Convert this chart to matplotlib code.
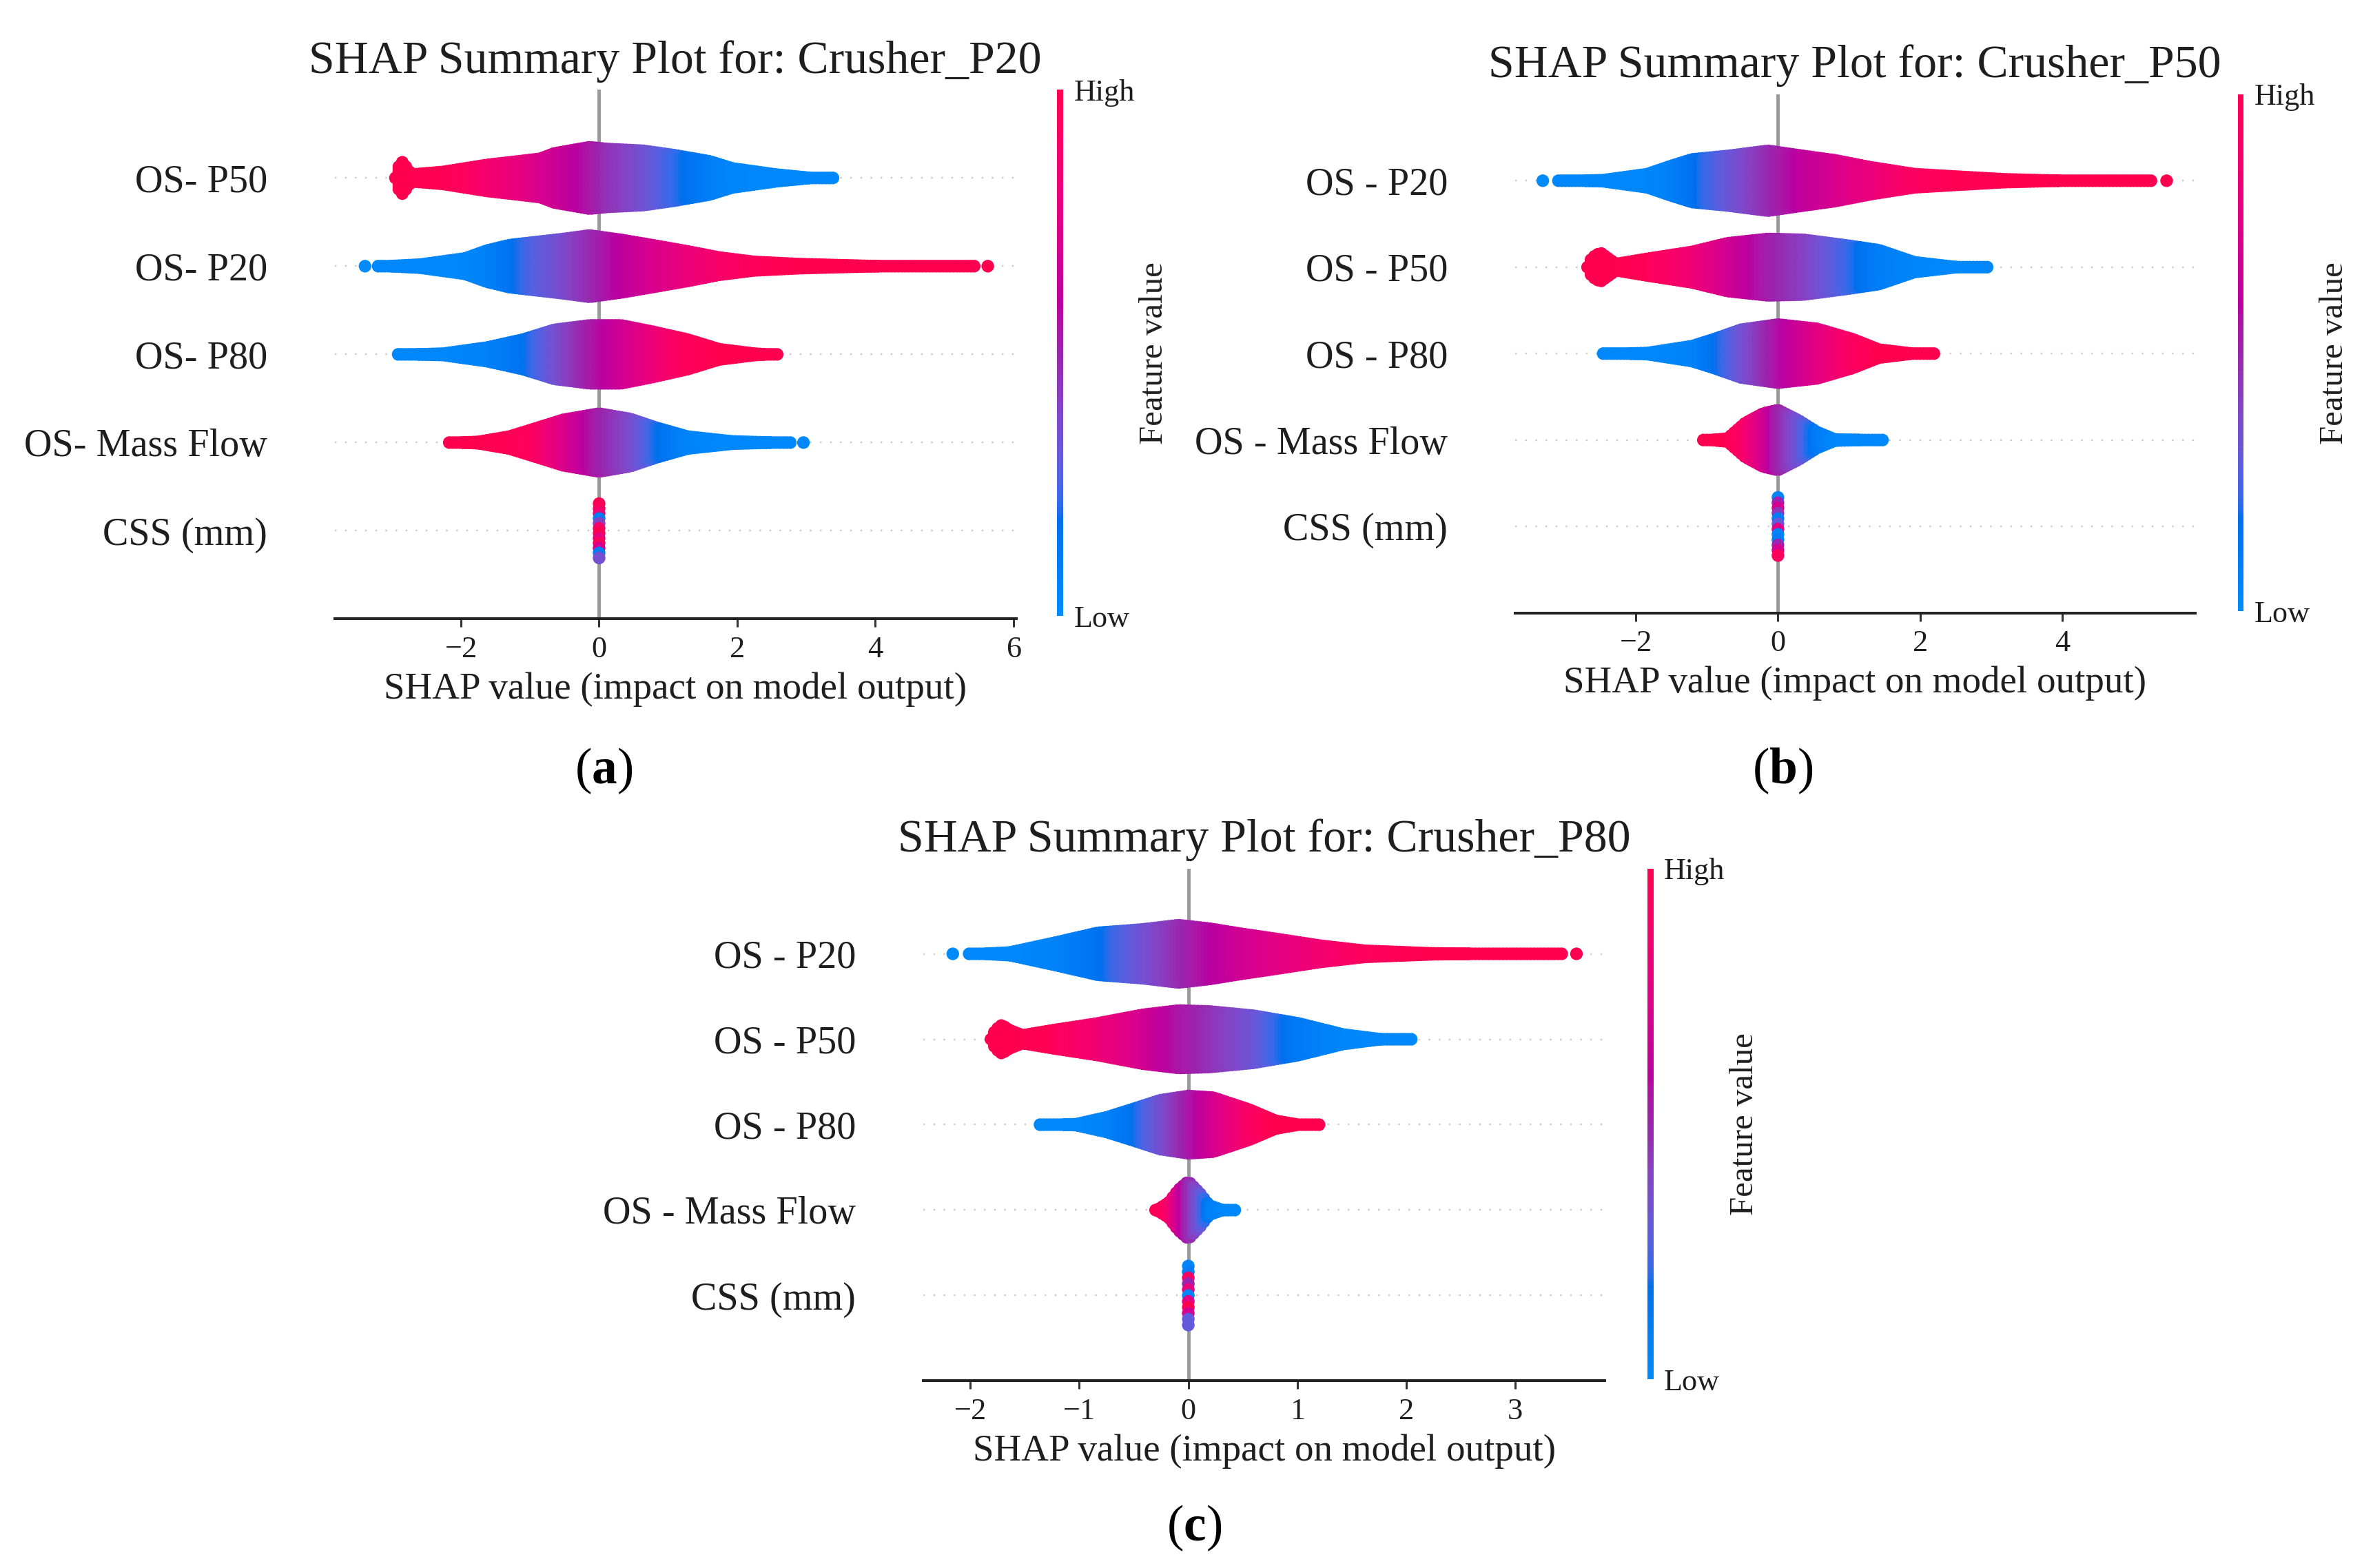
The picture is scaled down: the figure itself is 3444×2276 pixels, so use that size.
import numpy as np
import matplotlib
matplotlib.use("Agg")
import matplotlib.pyplot as plt
from matplotlib.colors import LinearSegmentedColormap

plt.rcParams['font.family'] = ['Liberation Serif', 'DejaVu Serif']
plt.rcParams['mathtext.fontset'] = 'custom'
plt.rcParams['mathtext.rm'] = 'Liberation Serif'
plt.rcParams['mathtext.bf'] = 'Liberation Serif:bold'

# ---- data ----------------------------------------------------------------
# each swarm: knots of SHAP value (X), outer half height of the swarm in row
# units (HW) and the feature value colour at that knot (CV, 0 = low, 1 = high)

TITLES = ["SHAP Summary Plot for: Crusher_P20",
          "SHAP Summary Plot for: Crusher_P50",
          "SHAP Summary Plot for: Crusher_P80"]

# rows listed bottom to top
FEATURES_A = ["CSS (mm)", "OS- Mass Flow", "OS- P80", "OS- P20", "OS- P50"]
FEATURES_B = ["CSS (mm)", "OS - Mass Flow", "OS - P80", "OS - P50", "OS - P20"]
FEATURES_C = ["CSS (mm)", "OS - Mass Flow", "OS - P80", "OS - P50", "OS - P20"]

XTICKS_A = [-2, 0, 2, 4, 6]
XTICKS_B = [-2, 0, 2, 4]
XTICKS_C = [-2, -1, 0, 1, 2, 3]

# panel (a): Crusher_P20
A_P50_X = [-2.95, -2.90, -2.85, -2.80, -2.72, -2.26, -1.94, -1.62, -1.17, -0.85, -0.65, -0.14, 0.12, 0.64, 1.09, 1.60, 1.93, 2.57, 3.09, 3.38]
A_P50_HW = [0.07, 0.20, 0.25, 0.20, 0.11, 0.14, 0.18, 0.22, 0.26, 0.29, 0.35, 0.42, 0.40, 0.38, 0.33, 0.26, 0.18, 0.11, 0.07, 0.065]
A_P50_CV = [1.00, 1.00, 1.00, 1.00, 1.00, 0.98, 0.95, 0.88, 0.80, 0.72, 0.68, 0.56, 0.47, 0.35, 0.22, 0.10, 0.04, 0.02, 0.02, 0.02]

A_P20_X = [-3.20, -2.59, -1.94, -1.62, -1.30, -0.97, -0.52, -0.14, 0.32, 0.77, 1.28, 1.74, 2.25, 2.90, 3.86, 4.50, 5.41]
A_P20_HW = [0.065, 0.09, 0.16, 0.25, 0.31, 0.34, 0.38, 0.42, 0.37, 0.31, 0.24, 0.17, 0.12, 0.095, 0.075, 0.065, 0.065]
A_P20_CV = [0.02, 0.02, 0.03, 0.06, 0.14, 0.25, 0.36, 0.47, 0.60, 0.70, 0.80, 0.88, 0.96, 1.00, 1.00, 1.00, 1.00]

A_P80_X = [-2.91, -2.26, -1.62, -1.10, -0.65, -0.14, 0.32, 0.77, 1.28, 1.74, 2.25, 2.57]
A_P80_HW = [0.065, 0.08, 0.15, 0.24, 0.35, 0.40, 0.40, 0.33, 0.24, 0.13, 0.08, 0.065]
A_P80_CV = [0.02, 0.02, 0.06, 0.15, 0.33, 0.52, 0.66, 0.80, 0.95, 1.00, 1.00, 1.00]

A_MF_X = [-2.17, -1.75, -1.30, -0.97, -0.52, 0.00, 0.45, 0.83, 1.28, 1.93, 2.77]
A_MF_HW = [0.065, 0.08, 0.14, 0.22, 0.33, 0.40, 0.34, 0.24, 0.14, 0.085, 0.065]
A_MF_CV = [1.00, 1.00, 0.98, 0.95, 0.75, 0.52, 0.38, 0.20, 0.05, 0.02, 0.02]

A_CSS_HW = 0.38
A_CSS_CV = [1.0, 0.95, 0.85, 0.1, 0.4, 0.9, 1.0, 0.8, 0.95, 0.7, 0.1, 0.35]

A_OUT_X = [-3.39, 5.63, 2.96]
A_OUT_ROW = [3, 3, 1]
A_OUT_CV = [0.0, 1.0, 0.02]

# panel (b): Crusher_P50
B_P20_X = [-3.09, -2.46, -1.84, -1.52, -1.21, -0.71, -0.14, 0.36, 0.80, 1.30, 1.92, 2.43, 3.18, 4.12, 5.25]
B_P20_HW = [0.065, 0.08, 0.15, 0.24, 0.32, 0.36, 0.42, 0.36, 0.31, 0.23, 0.15, 0.125, 0.09, 0.07, 0.065]
B_P20_CV = [0.02, 0.02, 0.03, 0.06, 0.15, 0.30, 0.47, 0.62, 0.70, 0.80, 0.92, 0.98, 1.00, 1.00, 1.00]

B_P50_X = [-2.68, -2.62, -2.50, -2.40, -2.28, -1.84, -1.21, -0.71, -0.14, 0.36, 0.92, 1.42, 1.92, 2.55, 2.96]
B_P50_HW = [0.07, 0.18, 0.24, 0.18, 0.11, 0.17, 0.25, 0.35, 0.40, 0.39, 0.33, 0.27, 0.13, 0.07, 0.065]
B_P50_CV = [1.00, 1.00, 1.00, 1.00, 1.00, 0.97, 0.85, 0.70, 0.53, 0.42, 0.25, 0.10, 0.04, 0.02, 0.02]

B_P80_X = [-2.46, -1.84, -1.21, -0.90, -0.52, 0.00, 0.55, 1.05, 1.42, 1.92, 2.18]
B_P80_HW = [0.065, 0.08, 0.16, 0.24, 0.35, 0.41, 0.36, 0.24, 0.12, 0.07, 0.065]
B_P80_CV = [0.02, 0.02, 0.05, 0.15, 0.32, 0.55, 0.75, 0.92, 1.00, 1.00, 1.00]

B_MF_X = [-1.05, -0.71, -0.46, -0.21, 0.00, 0.29, 0.55, 0.80, 1.30, 1.45]
B_MF_HW = [0.065, 0.09, 0.27, 0.38, 0.42, 0.30, 0.165, 0.08, 0.07, 0.065]
B_MF_CV = [1.00, 1.00, 0.90, 0.72, 0.52, 0.33, 0.12, 0.03, 0.02, 0.02]

B_CSS_HW = 0.41
B_CSS_CV = [0.05, 0.5, 0.7, 0.45, 0.1, 0.3, 0.75, 0.05, 0.1, 0.5, 0.7, 0.95]

B_OUT_X = [-3.31, 5.47]
B_OUT_ROW = [4, 4]
B_OUT_CV = [0.0, 1.0]

# panel (c): Crusher_P80
C_P20_X = [-2.01, -1.64, -1.24, -0.83, -0.42, -0.09, 0.19, 0.48, 0.80, 1.21, 1.62, 2.23, 2.84, 3.44]
C_P20_HW = [0.065, 0.09, 0.20, 0.32, 0.36, 0.41, 0.37, 0.31, 0.25, 0.17, 0.11, 0.08, 0.07, 0.065]
C_P20_CV = [0.02, 0.02, 0.05, 0.15, 0.33, 0.47, 0.58, 0.67, 0.75, 0.85, 0.95, 1.00, 1.00, 1.00]

C_P50_X = [-1.81, -1.77, -1.71, -1.64, -1.52, -1.24, -0.83, -0.42, -0.09, 0.19, 0.60, 1.01, 1.42, 1.82, 2.03]
C_P50_HW = [0.07, 0.18, 0.24, 0.18, 0.12, 0.18, 0.26, 0.36, 0.41, 0.40, 0.35, 0.26, 0.13, 0.065, 0.065]
C_P50_CV = [1.00, 1.00, 1.00, 1.00, 1.00, 0.97, 0.85, 0.70, 0.56, 0.47, 0.33, 0.12, 0.04, 0.02, 0.02]

C_P80_X = [-1.36, -1.03, -0.75, -0.50, -0.26, 0.00, 0.23, 0.56, 0.80, 1.05, 1.21]
C_P80_HW = [0.065, 0.08, 0.16, 0.26, 0.36, 0.41, 0.39, 0.25, 0.12, 0.065, 0.065]
C_P80_CV = [0.02, 0.02, 0.05, 0.16, 0.33, 0.52, 0.68, 0.90, 1.00, 1.00, 1.00]

C_MF_X = [-0.30, -0.18, -0.09, 0.00, 0.11, 0.19, 0.31, 0.42]
C_MF_HW = [0.065, 0.16, 0.31, 0.41, 0.265, 0.13, 0.075, 0.065]
C_MF_CV = [1.00, 0.90, 0.70, 0.50, 0.30, 0.10, 0.03, 0.02]

C_CSS_HW = 0.42
C_CSS_CV = [0.05, 0.1, 0.9, 0.5, 0.8, 0.05, 0.75, 1.0, 0.7, 0.3, 0.3]

C_OUT_X = [-2.16, 3.56]
C_OUT_ROW = [4, 4]
C_OUT_CV = [0.0, 1.0]


# ---- shap-like red/blue colour map (Lch interpolation) ---------------------
def lch_to_rgb(l, c, h):
    a, b = c * np.cos(h), c * np.sin(h)
    fy = (l + 16) / 116
    f = np.array([fy + a / 500, fy, fy - b / 200])
    f = np.where(f > 0.2068966, f ** 3, (f - 16 / 116) / 7.787)
    xyz = f * np.array([0.95047, 1.0, 1.08883])
    m = np.array([[3.2404542, -1.5371385, -0.4985314],
                  [-0.9692660, 1.8760108, 0.0415560],
                  [0.0556434, -0.2040259, 1.0572252]])
    rgb = m @ xyz
    rgb = np.where(rgb > 0.0031308, 1.055 * np.abs(rgb) ** (1 / 2.4) - 0.055, 12.92 * rgb)
    return np.clip(rgb, 0, 1)


nsteps = 100
l_vals = list(np.linspace(54, 40, nsteps // 2)) + list(np.linspace(40, 54, nsteps // 2))
c_vals = np.linspace(70, 90, nsteps)
h_vals = np.linspace(4.6588, 0.35470565 + 2 * np.pi, nsteps)
red_blue = LinearSegmentedColormap.from_list(
    "red_blue", [lch_to_rgb(l, c, h) for l, c, h in zip(l_vals, c_vals, h_vals)])

TEXT = "#1e1e1e"
FIG_W, FIG_H = 3444, 2276
DPI = 220
DOT_S = 36          # marker area, pt^2
DOT_R_PX = 9.2      # marker radius in pixels
STEP_PX = 5.0       # packing step of the swarm dots in pixels


def box(l, r, t, b):
    # positions measured on a 1560 x 1031 view of the picture
    return [l / 1560, 1 - b / 1031, (r - l) / 1560, (b - t) / 1031]


def draw_swarm(ax, row, xs, hw, cv, unit_px, row_px):
    r = DOT_R_PX / row_px
    sx = STEP_PX / unit_px
    sy = STEP_PX / row_px
    px, py, pc = [], [], []
    for x in np.arange(xs[0], xs[-1] + sx / 2, sx):
        h = max(np.interp(x, xs, hw) - r, 0)
        n = int(np.ceil(h / sy))
        ys = np.linspace(-h, h, 2 * n + 1) if n > 0 else np.array([0.0])
        px += [x] * len(ys)
        py += list(row + ys)
        pc += [np.interp(x, xs, cv)] * len(ys)
    ax.scatter(px, py, c=pc, cmap=red_blue, vmin=0, vmax=1, s=DOT_S,
               linewidths=0, zorder=3)


def draw_column(ax, row, hw, cv, row_px):
    h = hw - DOT_R_PX / row_px
    ys = row + np.linspace(h, -h, len(cv))
    ax.scatter(np.zeros(len(cv)), ys, c=cv, cmap=red_blue, vmin=0, vmax=1,
               s=DOT_S, linewidths=0, zorder=3)


def panel(fig, rect, cbar_rect, xlim, xticks, title, features, swarms, css_hw, css_cv, outs):
    ax = fig.add_axes(rect)
    ax.set_xlim(*xlim)
    ax.set_ylim(-1, len(features))
    unit_px = rect[2] * FIG_W / (xlim[1] - xlim[0])
    row_px = rect[3] * FIG_H / (len(features) + 1)

    for i in range(len(features)):
        ax.axhline(i, color="#cccccc", lw=0.8, dashes=(1, 5), zorder=-1)
    ax.axvline(0, color="#999999", lw=1.6, zorder=-1)

    for row, (xs, hw, cv) in enumerate(swarms, start=1):
        draw_swarm(ax, row, xs, hw, cv, unit_px, row_px)
    draw_column(ax, 0, css_hw, css_cv, row_px)
    ox, orow, ocv = outs
    ax.scatter(ox, orow, c=ocv, cmap=red_blue, vmin=0, vmax=1, s=DOT_S,
               linewidths=0, zorder=3)

    ax.set_yticks(range(len(features)))
    ax.set_yticklabels(features, fontsize=18.4, color=TEXT)
    ax.tick_params(axis="y", length=0, pad=32)
    ax.set_xticks(xticks)
    ax.tick_params(axis="x", labelsize=14.5, labelcolor=TEXT, color="#333333",
                   length=4, width=1.0, pad=4)
    for s in ("top", "left", "right"):
        ax.spines[s].set_visible(False)
    ax.spines["bottom"].set_color("#222222")
    ax.spines["bottom"].set_linewidth(1.3)
    ax.set_xlabel("SHAP value (impact on model output)", fontsize=18, color=TEXT, labelpad=4)
    ax.set_title(title, fontsize=22.2, color=TEXT, pad=8)

    cax = fig.add_axes(cbar_rect)
    sm = plt.cm.ScalarMappable(cmap=red_blue, norm=plt.Normalize(0, 1))
    cb = fig.colorbar(sm, cax=cax, ticks=[0, 1])
    cb.set_ticklabels(["Low", "High"])
    cb.ax.tick_params(length=0, labelsize=14.5, labelcolor=TEXT, pad=5)
    cb.set_label("Feature value", size=16, color=TEXT, labelpad=2)
    cb.outline.set_visible(False)
    return ax


fig = plt.figure(figsize=(FIG_W / DPI, FIG_H / DPI), dpi=DPI)

panel(fig, box(220, 668, 59, 407), box(695, 699, 59, 405), (-3.83, 6.04), XTICKS_A,
      TITLES[0], FEATURES_A,
      [(A_MF_X, A_MF_HW, A_MF_CV), (A_P80_X, A_P80_HW, A_P80_CV),
       (A_P20_X, A_P20_HW, A_P20_CV), (A_P50_X, A_P50_HW, A_P50_CV)],
      A_CSS_HW, A_CSS_CV, (A_OUT_X, A_OUT_ROW, A_OUT_CV))

panel(fig, box(996, 1443, 62, 403), box(1471, 1475, 62, 402), (-3.70, 5.87), XTICKS_B,
      TITLES[1], FEATURES_B,
      [(B_MF_X, B_MF_HW, B_MF_CV), (B_P80_X, B_P80_HW, B_P80_CV),
       (B_P50_X, B_P50_HW, B_P50_CV), (B_P20_X, B_P20_HW, B_P20_CV)],
      B_CSS_HW, B_CSS_CV, (B_OUT_X, B_OUT_ROW, B_OUT_CV))

panel(fig, box(607, 1055, 571, 908), box(1083, 1087, 571, 907), (-2.43, 3.82), XTICKS_C,
      TITLES[2], FEATURES_C,
      [(C_MF_X, C_MF_HW, C_MF_CV), (C_P80_X, C_P80_HW, C_P80_CV),
       (C_P50_X, C_P50_HW, C_P50_CV), (C_P20_X, C_P20_HW, C_P20_CV)],
      C_CSS_HW, C_CSS_CV, (C_OUT_X, C_OUT_ROW, C_OUT_CV))

for x, y, letter in [(397, 507, "a"), (1172, 507, "b"), (785, 1005, "c")]:
    fig.text(x / 1560, 1 - y / 1031, "(" + r"$\mathbf{" + letter + "}$" + ")",
             fontsize=24, color="black", ha="center", va="center")

fig.savefig("out.png", dpi=DPI, facecolor="white")
